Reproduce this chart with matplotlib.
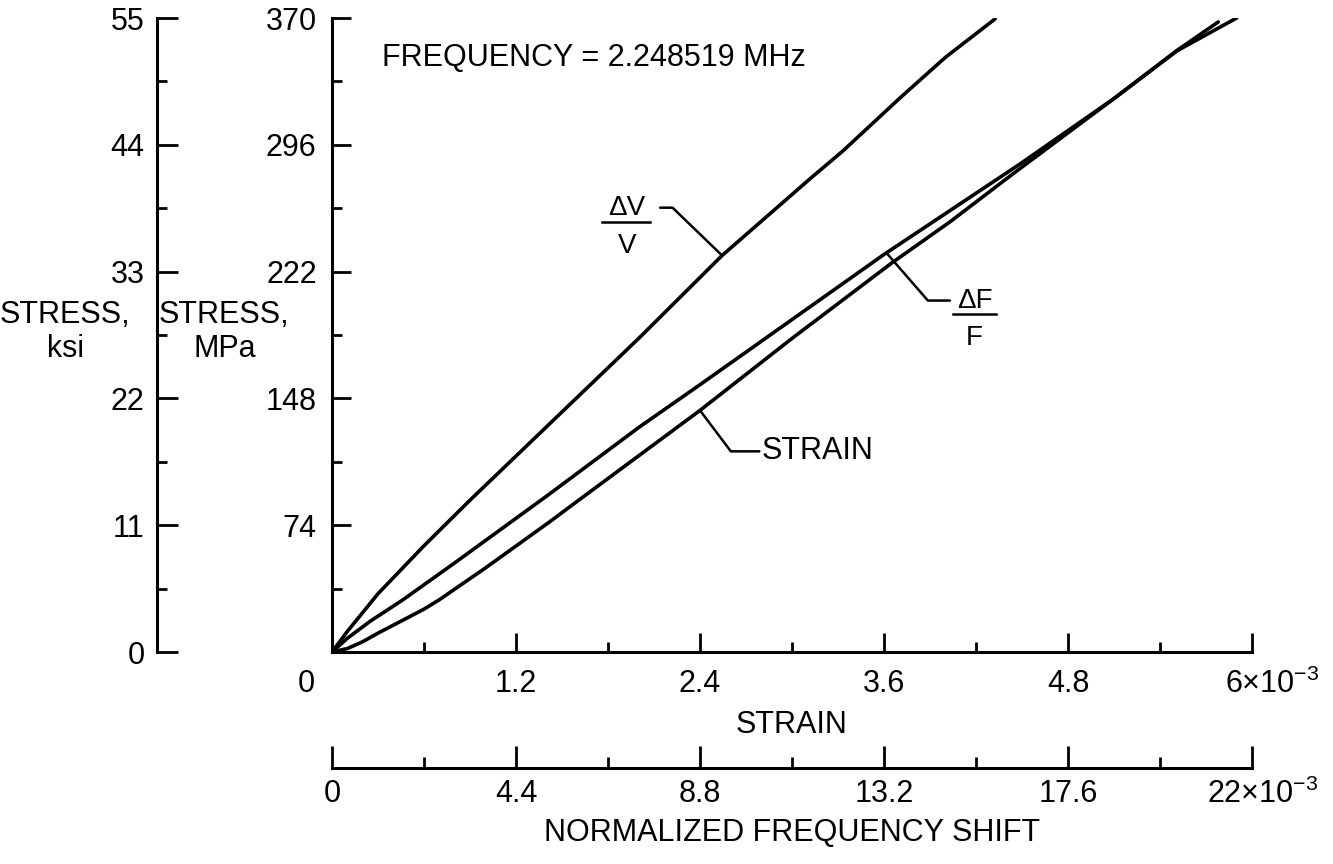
import matplotlib
matplotlib.use("Agg")
import matplotlib.pyplot as plt
import matplotlib.transforms as mtransforms
from matplotlib.ticker import MultipleLocator

plt.rcParams['font.family'] = ['Liberation Sans', 'DejaVu Sans']
plt.rcParams['mathtext.fontset'] = 'custom'
plt.rcParams['mathtext.rm'] = 'Liberation Sans'

# strain in units of 1e-3, stress in MPa
dvv_x = [0, 0.1, 0.3, 0.6, 0.9, 1.422, 2.0, 2.544, 3.118, 3.333, 3.705, 4.0, 4.325]
dvv_y = [0, 12, 34, 62, 88.6, 133.4, 183, 231.4, 276.2, 292.5, 323.4, 347, 369.5]

dff_x = [0, 0.1, 0.25, 0.46, 0.8, 1.0, 1.4, 2.0, 2.4, 3.0, 3.6, 4.03, 4.49, 5.1, 5.51, 5.9]
dff_y = [0, 8, 18, 30.3, 52, 65, 91, 131, 156, 194, 232, 257.6, 285, 323, 350.8, 370]

strain_x = [0, 0.1, 0.2, 0.3, 0.45, 0.6, 0.7, 1.0, 1.42, 1.6, 2.4, 3.0, 3.65, 4.03, 4.44, 5.1, 5.51, 5.78]
strain_y = [0, 2, 6, 11, 18, 25, 30.5, 49, 76, 88, 141, 183, 227, 251, 279, 323, 351, 367.7]

mpa_ticks = [0, 74, 148, 222, 296, 370]
mpa_labels = ['', '74', '148', '222', '296', '370']
ksi_ticks = [0, 11, 22, 33, 44, 55]
strain_ticks = [0, 1.2, 2.4, 3.6, 4.8, 6.0]
strain_labels = ['0', '1.2', '2.4', '3.6', '4.8', '6×10$^{-3}$']
nfs_ticks = [0, 4.4, 8.8, 13.2, 17.6, 22]
nfs_labels = ['0', '4.4', '8.8', '13.2', '17.6', '22×10$^{-3}$']

FS = 22
LW = 2.6

fig = plt.figure(figsize=(13.33, 8.64), dpi=100)
ax = fig.add_axes([332 / 1333, 1 - 652 / 864, 920 / 1333, 634 / 864])

for xs, ys in [(dvv_x, dvv_y), (dff_x, dff_y), (strain_x, strain_y)]:
    ax.plot(xs, ys, color='black', lw=LW, solid_capstyle='round', solid_joinstyle='round')

ax.set_xlim(0, 6)
ax.set_ylim(0, 370)
for s in ['top', 'right']:
    ax.spines[s].set_visible(False)
for s in ['left', 'bottom']:
    ax.spines[s].set_linewidth(2.2)

ax.set_xticks(strain_ticks)
ax.set_xticklabels(strain_labels)
ax.xaxis.set_minor_locator(MultipleLocator(0.6))
ax.set_yticks(mpa_ticks)
ax.set_yticklabels(mpa_labels)
ax.yaxis.set_minor_locator(MultipleLocator(37))
ax.tick_params(axis='x', which='major', direction='in', length=14, width=2, labelsize=FS, pad=12)
ax.tick_params(axis='x', which='minor', direction='in', length=7, width=2)
ax.tick_params(axis='y', which='major', direction='in', length=14, width=2, labelsize=FS, pad=11)
ax.tick_params(axis='y', which='minor', direction='in', length=7, width=2)

# shift the end labels like the original
xl = ax.get_xticklabels()
xl[0].set_transform(xl[0].get_transform() + mtransforms.ScaledTranslation(-26 / 100, 0, fig.dpi_scale_trans))
xl[-1].set_horizontalalignment('left')
xl[-1].set_transform(xl[-1].get_transform() + mtransforms.ScaledTranslation(-27 / 100, 0, fig.dpi_scale_trans))

ax.set_xlabel('STRAIN', fontsize=FS)
ax.xaxis.set_label_coords(0.5, -0.115)
ax.xaxis.label.set_va('center')
ax.set_ylabel('STRESS,\nMPa', fontsize=FS, rotation=0, ha='center', va='center', multialignment='center')
ax.yaxis.set_label_coords(-0.117, 0.505)

# ksi axis
ay2 = ax.secondary_yaxis(-175 / 920, functions=(lambda m: m * 55 / 370, lambda k: k * 370 / 55))
ay2.set_yticks(ksi_ticks)
ay2.yaxis.set_minor_locator(MultipleLocator(5.5))
ay2.spines['left'].set_linewidth(2.2)
ay2.tick_params(axis='y', which='major', direction='in', length=15, width=2, labelsize=FS, pad=9)
ay2.tick_params(axis='y', which='minor', direction='in', length=7, width=2)
ay2.set_ylabel('STRESS,\nksi', fontsize=FS, rotation=0, ha='center', va='center', multialignment='center')
ay2.yaxis.set_label_coords(-0.290, 0.505, transform=ax.transAxes)

# normalized frequency shift axis
ax2 = ax.secondary_xaxis(-116 / 634, functions=(lambda s: s * 22 / 6, lambda f: f * 6 / 22))
ax2.set_xticks(nfs_ticks)
ax2.set_xticklabels(nfs_labels)
ax2.xaxis.set_minor_locator(MultipleLocator(2.2))
ax2.spines['bottom'].set_linewidth(2.2)
ax2.tick_params(axis='x', which='major', direction='in', length=16, width=2, labelsize=FS, pad=8)
ax2.tick_params(axis='x', which='minor', direction='in', length=8, width=2)
xl2 = ax2.get_xticklabels()
xl2[-1].set_horizontalalignment('left')
xl2[-1].set_transform(xl2[-1].get_transform() + mtransforms.ScaledTranslation(-45 / 100, 0, fig.dpi_scale_trans))
ax2.set_xlabel('NORMALIZED FREQUENCY SHIFT', fontsize=FS)
ax2.xaxis.set_label_coords(0.5, -0.285, transform=ax.transAxes)
ax2.xaxis.label.set_va('center')

ax.text(0.326, 346.7, 'FREQUENCY = 2.248519 MHz', fontsize=FS, ha='left', va='center')

# curve labels with leaders
lead = dict(arrowstyle='-', color='black', lw=1.8, shrinkA=0, shrinkB=0)
ax.annotate('', xy=(2.544, 231.4), xytext=(2.14, 259.3),
            arrowprops=dict(lead, connectionstyle='angle,angleA=0,angleB=-44,rad=0'))
ax.text(1.924, 259.3, 'ΔV', fontsize=20, ha='center', va='center')
ax.plot([1.761, 2.074], [251.2, 251.2], color='black', lw=1.8)
ax.text(1.924, 237.0, 'V', fontsize=20, ha='center', va='center')

ax.annotate('STRAIN', xy=(2.40, 141.0), xytext=(2.805, 117.1), fontsize=FS, ha='left', va='center',
            arrowprops=dict(lead, connectionstyle='angle,angleA=0,angleB=-53,rad=0'))

ax.annotate('', xy=(3.62, 232.5), xytext=(4.03, 205.1),
            arrowprops=dict(lead, connectionstyle='angle,angleA=0,angleB=-49,rad=0'))
ax.text(4.19, 205.1, 'ΔF', fontsize=20, ha='center', va='center')
ax.plot([4.05, 4.33], [197, 197], color='black', lw=1.8)
ax.text(4.19, 183.0, 'F', fontsize=20, ha='center', va='center')

fig.savefig('out.png', dpi=100)
